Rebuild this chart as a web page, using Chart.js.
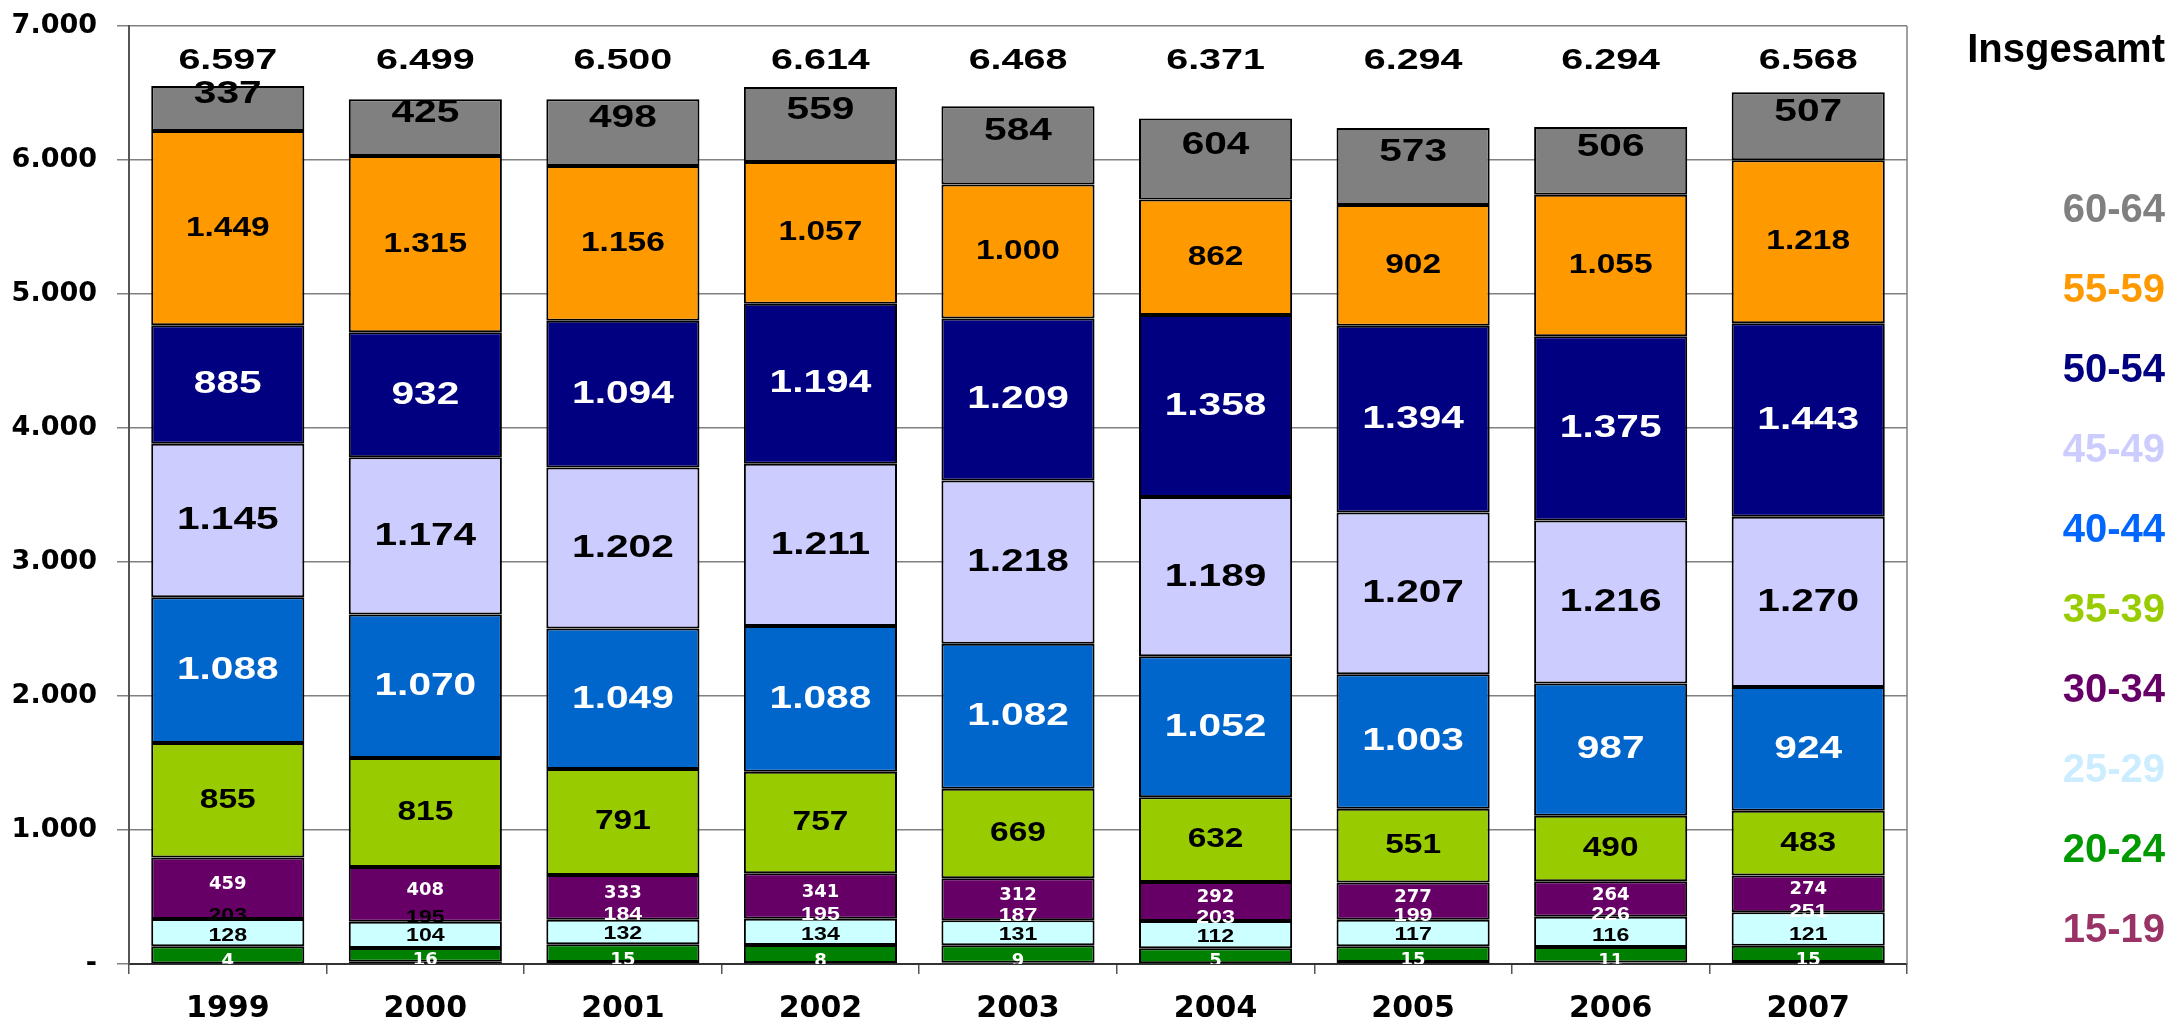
<!DOCTYPE html>
<html lang="de">
<head>
    <meta charset="UTF-8">
    <title>Beschäftigte nach Altersgruppen 1999-2007</title>
    <script src="https://cdn.jsdelivr.net/npm/chart.js"></script>
    <style>
        html, body { margin: 0; padding: 0; background: #fff; overflow: hidden; }
        #wrap { width: 2171px; height: 1024px; position: relative; }
    </style>
</head>
<body>
    <div id="wrap"><canvas id="ageChart"></canvas></div>

    <script>
        // Werte
        const years = ["1999", "2000", "2001", "2002", "2003", "2004", "2005", "2006", "2007"];
        const totals = [6597, 6499, 6500, 6614, 6468, 6371, 6294, 6294, 6568];

        const age15_19 = [4, 16, 15, 8, 9, 5, 15, 11, 15];
        const age20_24 = [128, 104, 132, 134, 131, 112, 117, 116, 121];
        const age25_29 = [203, 195, 184, 195, 187, 203, 199, 226, 251];
        const age30_34 = [459, 408, 333, 341, 312, 292, 277, 264, 274];
        const age35_39 = [855, 815, 791, 757, 669, 632, 551, 490, 483];
        const age40_44 = [1088, 1070, 1049, 1088, 1082, 1052, 1003, 987, 924];
        const age45_49 = [1145, 1174, 1202, 1211, 1218, 1189, 1207, 1216, 1270];
        const age50_54 = [885, 932, 1094, 1194, 1209, 1358, 1394, 1375, 1443];
        const age55_59 = [1449, 1315, 1156, 1057, 1000, 862, 902, 1055, 1218];
        const age60_64 = [337, 425, 498, 559, 584, 604, 573, 506, 507];

        const yMin = 0, yMax = 7000, yStep = 1000;
        const totalLabel = "Insgesamt";

        const ARIAL = "'Liberation Sans', Arial, sans-serif";
        const WIDE = "'DejaVu Sans', Verdana, sans-serif";

        // Reihen von unten nach oben, mit Farben und Beschriftungsstil
        const series = [
            { label: "15-19", data: age15_19, fill: "#993366", text: "#993366",
              lab: { family: WIDE, size: 18, sx: 1, color: "#fff", dy: -2 } },
            { label: "20-24", data: age20_24, fill: "#008000", text: "#009900",
              lab: { family: ARIAL, size: 19, sx: 1.22, color: "#000", dy: -19 } },
            { label: "25-29", data: age25_29, fill: "#CCFFFF", text: "#CCECFF",
              lab: { family: ARIAL, size: 19, sx: 1.22, color: ["#000", "#000", "#fff", "#fff", "#fff", "#fff", "#fff", "#fff", "#fff"], dy: -17 } },
            { label: "30-34", data: age30_34, fill: "#660066", text: "#660066",
              lab: { family: WIDE, size: 18, sx: 1, color: "#fff", dy: -4 } },
            { label: "35-39", data: age35_39, fill: "#99CC00", text: "#99CC00",
              lab: { family: ARIAL, size: 27, sx: 1.24, color: "#000", dy: 0 } },
            { label: "40-44", data: age40_44, fill: "#0066CC", text: "#0066FF",
              lab: { family: ARIAL, size: 32, sx: 1.27, color: "#fff", dy: 0 } },
            { label: "45-49", data: age45_49, fill: "#CCCCFF", text: "#CCCCFF",
              lab: { family: ARIAL, size: 32, sx: 1.27, color: "#000", dy: 0 } },
            { label: "50-54", data: age50_54, fill: "#000080", text: "#000080",
              lab: { family: ARIAL, size: 32, sx: 1.27, color: "#fff", dy: 0 } },
            { label: "55-59", data: age55_59, fill: "#FF9900", text: "#FF9900",
              lab: { family: ARIAL, size: 27, sx: 1.24, color: "#000", dy: 0 } },
            { label: "60-64", data: age60_64, fill: "#808080", text: "#808080",
              lab: { family: ARIAL, size: 32, sx: 1.27, color: "#000", dy: -14 } }
        ];

        function fmt(v) {
            return String(v).replace(/\B(?=(\d{3})+(?!\d))/g, ".");
        }

        function drawStretched(ctx, text, x, y, family, size, sx, color) {
            ctx.save();
            ctx.font = "bold " + size + "px " + family;
            ctx.fillStyle = color;
            ctx.textAlign = "center";
            ctx.textBaseline = "middle";
            ctx.translate(x, y);
            ctx.scale(sx, 1);
            ctx.fillText(text, 0, 0);
            ctx.restore();
        }

        const barLabels = {
            id: "barLabels",
            afterDatasetsDraw(chart) {
                const ctx = chart.ctx;
                const area = chart.chartArea;

                // rechter Rahmen der Zeichenfläche
                ctx.save();
                ctx.strokeStyle = "#808080";
                ctx.lineWidth = 1.5;
                ctx.beginPath();
                ctx.moveTo(area.right, area.top);
                ctx.lineTo(area.right, area.bottom);
                ctx.stroke();
                ctx.restore();

                ctx.save();
                ctx.beginPath();
                ctx.rect(area.left, area.top, area.right - area.left, area.bottom - area.top);
                ctx.clip();
                series.forEach((s, i) => {
                    const meta = chart.getDatasetMeta(i);
                    meta.data.forEach((bar, j) => {
                        const col = Array.isArray(s.lab.color) ? s.lab.color[j] : s.lab.color;
                        const y = (bar.y + bar.base) / 2 + s.lab.dy;
                        drawStretched(ctx, fmt(s.data[j]), bar.x, y, s.lab.family, s.lab.size, s.lab.sx, col);
                    });
                });
                ctx.restore();

                // Gesamtwerte über den Säulen
                const meta0 = chart.getDatasetMeta(0);
                meta0.data.forEach((bar, j) => {
                    drawStretched(ctx, fmt(totals[j]), bar.x, area.top + 35, ARIAL, 29, 1.36, "#000");
                });
            }
        };

        const sideLegend = {
            id: "sideLegend",
            afterDraw(chart) {
                const ctx = chart.ctx;
                const xr = chart.width - 6;
                ctx.save();
                ctx.textAlign = "right";
                ctx.textBaseline = "middle";
                ctx.font = "bold 40px " + ARIAL;
                ctx.fillStyle = "#000";
                ctx.fillText(totalLabel, xr, 51);
                const top = series.slice().reverse();
                top.forEach((s, k) => {
                    ctx.fillStyle = s.text;
                    ctx.fillText(s.label, xr, 211 + k * 80);
                });
                ctx.restore();
            }
        };

        new Chart(document.getElementById("ageChart"), {
            type: "bar",
            data: {
                labels: years,
                datasets: series.map(s => ({
                    label: s.label,
                    data: s.data,
                    backgroundColor: s.fill,
                    borderColor: "#000",
                    borderWidth: 2,
                    borderSkipped: false,
                    barPercentage: 0.775,
                    categoryPercentage: 1.0
                }))
            },
            options: {
                responsive: true,
                maintainAspectRatio: false,
                animation: false,
                layout: { padding: { left: 12, right: 264, top: 26, bottom: 0 } },
                plugins: {
                    legend: { display: false },
                    tooltip: { enabled: false }
                },
                scales: {
                    x: {
                        stacked: true,
                        grid: { display: true, offset: true, drawOnChartArea: false, tickLength: 10, color: "#555", lineWidth: 1.5 },
                        border: { color: "#333", width: 2 },
                        ticks: {
                            color: "#000",
                            padding: 20,
                            font: { family: WIDE, size: 30, weight: "bold", lineHeight: 1.0 }
                        },
                        afterFit: scale => { scale.height = 60; }
                    },
                    y: {
                        stacked: true,
                        min: yMin,
                        max: yMax,
                        grid: { color: "#808080", lineWidth: 1.5, tickLength: 12 },
                        border: { color: "#555", width: 2 },
                        ticks: {
                            stepSize: yStep,
                            color: "#000",
                            padding: 20,
                            font: { family: WIDE, size: 27, weight: "bold" },
                            callback: v => v === 0 ? "-" : fmt(v)
                        },
                        afterFit: scale => {
                            scale.width = 117;
                            scale.paddingTop = 0;
                            scale.paddingBottom = 0;
                        }
                    }
                }
            },
            plugins: [barLabels, sideLegend]
        });
    </script>
</body>
</html>
